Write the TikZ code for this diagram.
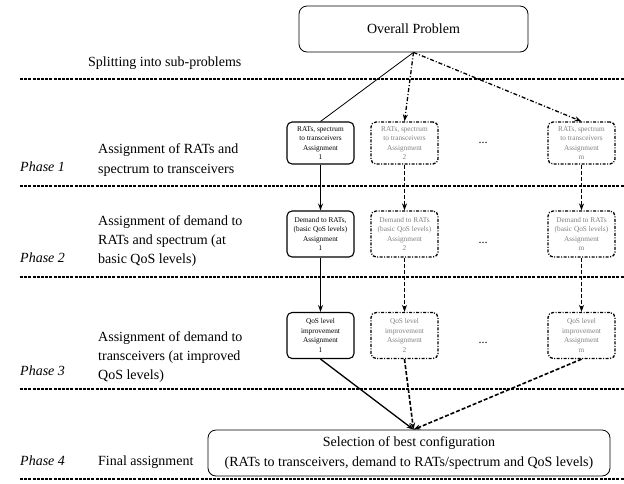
\documentclass[tikz,border=0pt]{standalone}
\usepackage{fontspec}
\setmainfont{Liberation Serif}
\usetikzlibrary{arrows.meta}
\definecolor{ghost}{gray}{0.5}
\begin{document}
\begin{tikzpicture}[x=1pt,y=-1pt,
  big/.style={draw, line width=0.8pt, rounded corners=8pt, inner sep=0pt, align=center, font=\fontsize{14}{20}\selectfont},
  subsolid/.style={draw, line width=1.1pt, rounded corners=5pt, minimum width=67pt, minimum height=46pt, inner sep=0pt, align=center, font=\fontsize{7.3}{9.4}\selectfont},
  subghost/.style={subsolid, line width=1.3pt, dash pattern=on 3pt off 1.5pt on 1pt off 1.5pt, text=ghost},
  sep/.style={line width=1.2pt, dash pattern=on 3pt off 1.2pt},
  lbl/.style={anchor=west, align=left, inner sep=0pt, font=\fontsize{14}{19.3}\selectfont},
  phase/.style={anchor=west, inner sep=0pt, font=\fontsize{14}{20}\selectfont\itshape},
  tip/.style={-{Stealth[length=7pt,width=5pt]}},
  solidarrow/.style={tip, line width=1.6pt},
  dasharrow/.style={tip, line width=1.6pt, dash pattern=on 4pt off 2pt},
  dotarrow/.style={tip, line width=1.3pt, dash pattern=on 4pt off 2pt on 1pt off 2pt},
  dots/.style={font=\fontsize{12}{14}\selectfont, inner sep=0pt}
]
\useasboundingbox (0,0) rectangle (624,483);

% separators
\foreach \yy in {79,186,277,389,479} \draw[sep] (20,\yy) -- (624,\yy);

% top and bottom boxes
\node[big, minimum width=229pt, minimum height=46pt] (over) at (413.5,29) {Overall Problem};
\node[big, minimum width=402pt, minimum height=46pt] (final) at (409,453)
  {Selection of best configuration\\(RATs to transceivers, demand to RATs/spectrum and QoS levels)};
\coordinate (conv) at (final.north -| over.south);

% sub-problem boxes
\node[subsolid, minimum height=42pt] (a1) at (320.5,143) {RATs, spectrum\\to transceivers\\Assignment\\1};
\node[subghost, minimum height=42pt] (a2) at (404.5,143) {RATs, spectrum\\to transceivers\\Assignment\\2};
\node[subghost, minimum height=42pt] (am) at (581.5,143) {RATs, spectrum\\to transceivers\\Assignment\\m};

\node[subsolid] (b1) at (320.5,234) {Demand to RATs,\\(basic QoS levels)\\Assignment\\1};
\node[subghost] (b2) at (404.5,234) {Demand to RATs\\(basic QoS levels)\\Assignment\\2};
\node[subghost] (bm) at (581.5,234) {Demand to RATs\\(basic QoS levels)\\Assignment\\m};

\node[subsolid] (c1) at (320.5,335.5) {QoS level\\improvement\\Assignment\\1};
\node[subghost] (c2) at (404.5,335.5) {QoS level\\improvement\\Assignment\\2};
\node[subghost] (cm) at (581.5,335.5) {QoS level\\improvement\\Assignment\\m};

\node[dots] (d1) at (483,143) {...};
\node[dots] (d2) at (483,243) {...};
\node[dots] (d3) at (483,343) {...};

% connectors
\draw[line width=0.8pt] (over.south) -- (a1.north);
\draw[dotarrow] (over.south) -- (a2.north);
\draw[dotarrow] (over.south) -- (am.north);

\draw[solidarrow] (a1) -- (b1);
\draw[solidarrow] (b1) -- (c1);
\draw[dasharrow] (a2) -- (b2);
\draw[dasharrow] (b2) -- (c2);
\draw[dasharrow] (am) -- (bm);
\draw[dasharrow] (bm) -- (cm);

\draw[solidarrow, line width=1.3pt] (c1.south) -- (conv);
\draw[dasharrow] (c2.south) -- (conv);
\draw[dasharrow] (cm.south) -- (conv);

% left column texts
\node[lbl] (split) at (88,63) {Splitting into sub-problems};
\node[lbl] (t1) at (98,160) {Assignment of RATs and\\spectrum to transceivers};
\node[phase] (p1) at (20,167) {Phase 1};
\node[lbl] (t2) at (98,241) {Assignment of demand to\\RATs and spectrum (at\\basic QoS levels)};
\node[phase] (p2) at (20,258) {Phase 2};
\node[lbl] (t3) at (98,357) {Assignment of demand to\\transceivers (at improved\\QoS levels)};
\node[phase] (p3) at (20,371) {Phase 3};
\node[lbl] (t4) at (98,462) {Final assignment};
\node[phase] (p4) at (20,461) {Phase 4};
\end{tikzpicture}
\end{document}
